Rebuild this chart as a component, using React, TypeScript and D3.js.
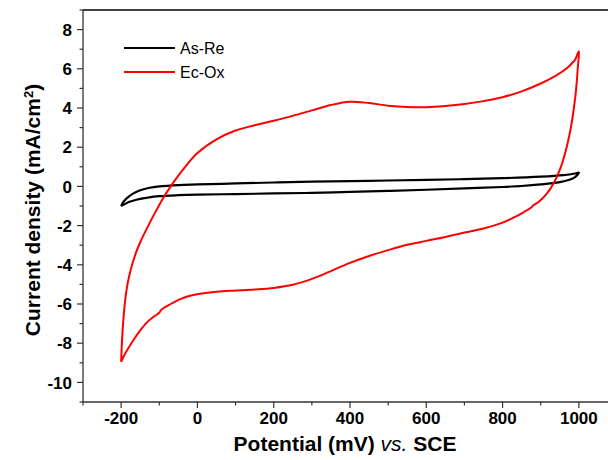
import React from "react";
import * as d3 from "d3";

// ---- Data ----
const xTicks = [-200, 0, 200, 400, 600, 800, 1000];
const yTicks = [-10, -8, -6, -4, -2, 0, 2, 4, 6, 8];
const seriesNames = ["As-Re", "Ec-Ox"];

// As-Re (black): forward scan then reverse scan
const asRePotential = [
  -200, -195, -185, -170, -150, -125, -100, -50, 0, 100, 200, 300, 400, 500, 600, 700, 800, 900, 960, 990, 1000,
  996, 988, 975, 950, 900, 850, 800, 700, 600, 500, 400, 300, 200, 100, 0, -50, -100, -130, -160, -180, -193, -200,
];
const asReCurrent = [
  -1.0, -0.82, -0.6, -0.38, -0.2, -0.07, 0.0, 0.07, 0.1, 0.15, 0.2, 0.24, 0.27, 0.3, 0.33, 0.37, 0.42, 0.5, 0.58, 0.66, 0.7,
  0.58, 0.45, 0.34, 0.22, 0.1, 0.02, -0.03, -0.1, -0.17, -0.23, -0.28, -0.33, -0.36, -0.39, -0.42, -0.45, -0.5, -0.57, -0.68, -0.8, -0.93, -1.0,
];

// Ec-Ox (red): forward scan then reverse scan
const ecOxPotential = [
  -200, -197, -192, -186, -178, -165, -150, -130, -110, -90, -70, -40, 0, 50, 100, 150, 200, 250, 300, 350, 400, 450, 500, 550,
  600, 650, 700, 750, 800, 850, 900, 940, 970, 985, 990, 1000,
  997, 993, 987, 979, 968, 953, 935, 915, 895, 880, 875, 855, 830, 800, 750, 700, 650, 600, 550, 500, 450, 400, 350, 300, 250,
  200, 150, 94, 50, 7, -19, -45, -70, -95, -100, -115, -133, -150, -168, -190, -200,
];
const ecOxCurrent = [
  -8.95, -7.6, -6.3, -5.3, -4.5, -3.6, -2.85, -2.05, -1.3, -0.6, 0.0, 0.8, 1.7, 2.4, 2.85, 3.12, 3.35, 3.6, 3.88, 4.15, 4.32, 4.25, 4.12, 4.05,
  4.04, 4.1, 4.2, 4.35, 4.55, 4.85, 5.25, 5.65, 6.05, 6.35, 6.45, 6.9,
  6.0, 5.0, 4.0, 3.0, 2.0, 1.0, 0.2, -0.4, -0.78, -0.98, -1.08, -1.32, -1.58, -1.85, -2.15, -2.35, -2.58, -2.78, -2.98, -3.25, -3.55, -3.9, -4.32, -4.72, -5.02,
  -5.18, -5.26, -5.32, -5.38, -5.48, -5.58, -5.75, -6.0, -6.3, -6.45, -6.65, -6.95, -7.35, -7.85, -8.55, -8.95,
];

const W = 608;
const H = 460;
const M = { left: 83, top: 10, right: 617, bottom: 402 };

export default function App() {
  const x = d3.scaleLinear().domain([-300, 1100]).range([M.left, M.right]);
  const y = d3.scaleLinear().domain([-11, 9]).range([M.bottom, M.top]);

  const mk = (px: number[], py: number[]) =>
    d3
      .line<[number, number]>()
      .x((d) => x(d[0]))
      .y((d) => y(d[1]))
      .curve(d3.curveCatmullRom.alpha(0.5))(px.map((v, i) => [v, py[i]] as [number, number])) || "";

  const asRePath = mk(asRePotential, asReCurrent);
  const ecOxPath = mk(ecOxPotential, ecOxCurrent);

  const xMinor = d3.range(-300, 1101, 100).filter((v) => !xTicks.includes(v));
  const yMinor = d3.range(-11, 10, 1).filter((v) => !yTicks.includes(v));

  const font = "'Liberation Sans', Arial, sans-serif";
  const colors = ["#000000", "#ff0000"];

  return (
    <svg
      width={W}
      height={H}
      style={{ position: "absolute", left: 0, top: 0, background: "#fff" }}
      fontFamily={font}
    >
      <rect x={0} y={0} width={W} height={H} fill="#fff" />
      {/* frame */}
      <line x1={M.left} x2={W} y1={M.top} y2={M.top} stroke="#000" strokeWidth={1.3} />
      <line x1={M.left} x2={M.left} y1={M.top} y2={M.bottom} stroke="#333" strokeWidth={1.3} />
      <line x1={M.left} x2={W} y1={M.bottom} y2={M.bottom} stroke="#333" strokeWidth={1.3} />

      {/* y ticks */}
      {yTicks.map((t) => (
        <g key={"y" + t}>
          <line x1={M.left - 6} x2={M.left} y1={y(t)} y2={y(t)} stroke="#333" strokeWidth={1.2} />
          <text x={M.left - 11} y={y(t)} dy="0.36em" textAnchor="end" fontSize={17} fontWeight="bold">
            {t}
          </text>
        </g>
      ))}
      {yMinor.map((t) => (
        <line key={"ym" + t} x1={M.left - 3.5} x2={M.left} y1={y(t)} y2={y(t)} stroke="#333" strokeWidth={1.2} />
      ))}

      {/* x ticks */}
      {xTicks.map((t) => (
        <g key={"x" + t}>
          <line x1={x(t)} x2={x(t)} y1={M.bottom} y2={M.bottom + 6} stroke="#333" strokeWidth={1.2} />
          <text x={x(t)} y={M.bottom + 22} textAnchor="middle" fontSize={17} fontWeight="bold">
            {t}
          </text>
        </g>
      ))}
      {xMinor.map((t) => (
        <line key={"xm" + t} x1={x(t)} x2={x(t)} y1={M.bottom} y2={M.bottom + 3.5} stroke="#333" strokeWidth={1.2} />
      ))}

      {/* axis titles */}
      <text x={345} y={451} textAnchor="middle" fontSize={21} fontWeight="bold">
        Potential (mV) <tspan fontStyle="italic" fontWeight="normal">vs.</tspan> SCE
      </text>
      <text
        transform={`translate(40, 210) rotate(-90)`}
        textAnchor="middle"
        fontSize={21}
        fontWeight="bold"
      >
        Current density (mA/cm<tspan baselineShift="super" fontSize={13}>2</tspan>)
      </text>

      {/* curves */}
      <path d={asRePath} fill="none" stroke={colors[0]} strokeWidth={2.2} strokeLinejoin="round" />
      <path d={ecOxPath} fill="none" stroke={colors[1]} strokeWidth={2} strokeLinejoin="round" />

      {/* legend */}
      {seriesNames.map((name, i) => (
        <g key={name}>
          <line x1={124} x2={175} y1={48 + i * 24} y2={48 + i * 24} stroke={colors[i]} strokeWidth={2.2} />
          <text x={180} y={48 + i * 24} dy="0.36em" fontSize={16}>
            {name}
          </text>
        </g>
      ))}
    </svg>
  );
}
